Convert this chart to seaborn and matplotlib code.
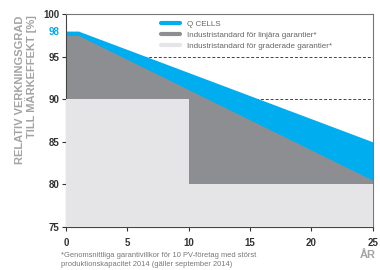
import matplotlib
matplotlib.use("Agg")
import matplotlib.pyplot as plt
from matplotlib.lines import Line2D
import seaborn as sns

# data
years_q = [0, 1, 25]
qcells = [98, 98, 85]
years_lin = [0, 1, 25]
linear = [97.5, 97.5, 80.5]
years_grad = [0, 10, 10, 25]
graded = [90, 90, 80, 80]
grid_levels = [90, 95]
x_ticks = [0, 5, 10, 15, 20, 25]
y_ticks = [75, 80, 85, 90, 95, 100]

labels = ["Q CELLS",
          "Industristandard för linjära garantier*",
          "Industristandard för graderade garantier*"]

blue = "#00aeef"
dark_gray = "#8d8e92"
light_gray = "#e5e5e7"
text_gray = "#a3a3a3"

sns.set_style("white")
plt.rcParams["font.family"] = ["Liberation Sans", "DejaVu Sans"]

fig = plt.figure(figsize=(3.8, 2.7), dpi=100)
ax = fig.add_axes([0.174, 0.159, 0.807, 0.789])

# dashed guide lines sit behind the filled areas
for lv in grid_levels:
    ax.axhline(lv, color="#444444", lw=0.7, ls=(0, (3, 2)), zorder=0)

ax.fill_between(years_q, 75, qcells, color=blue, lw=0, zorder=1)
ax.fill_between(years_lin, 75, linear, color=dark_gray, lw=0, zorder=2)
ax.fill_between(years_grad, 75, graded, color=light_gray, lw=0, zorder=3)

ax.set_xlim(0, 25)
ax.set_ylim(75, 100)
ax.set_xticks(x_ticks)
ax.set_yticks(y_ticks + [98])
ax.set_yticklabels([str(v) for v in y_ticks] + ["98"])
ax.tick_params(axis="y", length=3, width=0.8, pad=2, labelsize=7, colors="#333333", left=True)
ax.tick_params(axis="x", length=3, width=0.8, pad=5, labelsize=7, colors="#333333", bottom=True)
ax.yaxis.get_major_ticks()[-1].tick1line.set_visible(False)
for lab in ax.get_xticklabels() + ax.get_yticklabels():
    lab.set_fontweight("bold")
ax.get_yticklabels()[-1].set_color(blue)

for side in ["left", "bottom"]:
    ax.spines[side].set_color("#444444")
    ax.spines[side].set_linewidth(0.8)
for side in ["top", "right"]:
    ax.spines[side].set_color("#777777")
    ax.spines[side].set_linewidth(0.8)

fig.text(0.068, 0.944, "RELATIV VERKNINGSGRAD\nTILL MÄRKEFFEKT [%]", rotation=90,
         fontsize=8, fontweight="bold", color=text_gray, linespacing=1.05,
         ha="center", va="top", multialignment="right")

handles = [Line2D([], [], color=c, lw=3) for c in [blue, dark_gray, light_gray]]
leg = ax.legend(handles, labels, loc="upper left", bbox_to_anchor=(0.29, 1.0),
                frameon=False, fontsize=5.8, handlelength=2.3, handletextpad=0.9,
                labelspacing=0.45, borderaxespad=0.35)
for t in leg.get_texts():
    t.set_color("#666666")
leg.set_zorder(5)

fig.text(0.968, 0.057, "ÅR", fontsize=8, fontweight="bold", color=text_gray,
         ha="center", va="center")
fig.text(0.160, 0.052, "*Genomsnittliga garantivillkor för 10 PV-företag med störst",
         fontsize=5.4, color="#777777", va="center")
fig.text(0.160, 0.020, "produktionskapacitet 2014 (gäller september 2014)",
         fontsize=5.4, color="#777777", va="center")

fig.savefig("out.png", dpi=100)
